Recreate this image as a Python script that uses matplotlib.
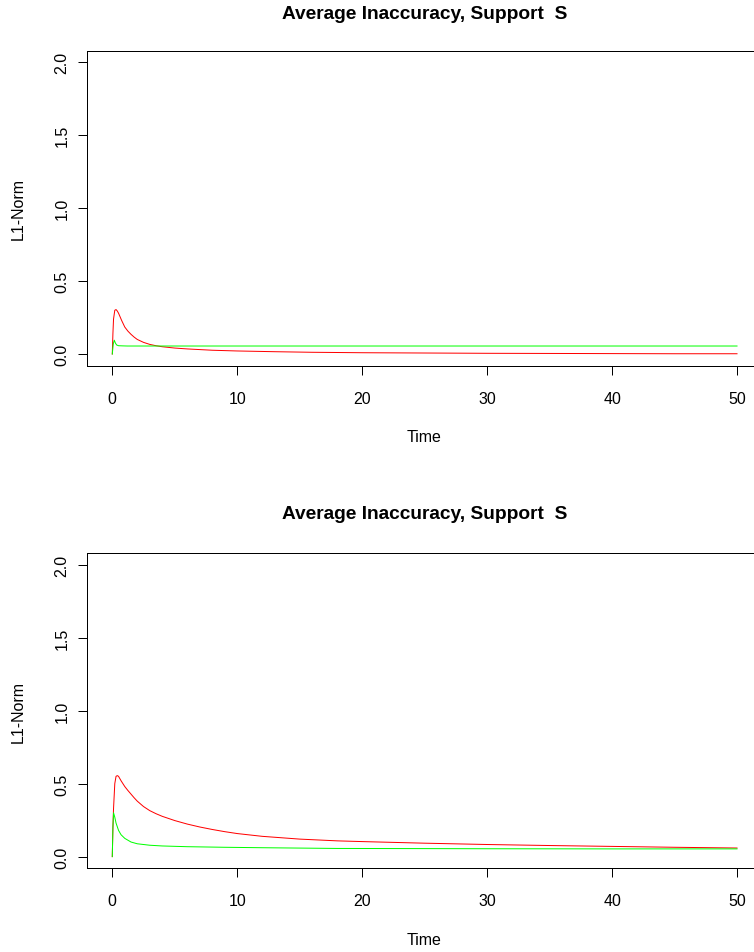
import matplotlib
matplotlib.use("Agg")
import matplotlib.pyplot as plt

plt.rcParams['font.family'] = ['Liberation Sans', 'DejaVu Sans']

title = "Average Inaccuracy, Support  S"
xlabel = "Time"
ylabel = "L1-Norm"
xticks = [0, 10, 20, 30, 40, 50]
yticks = [0.0, 0.5, 1.0, 1.5, 2.0]
ytick_labels = ["0.0", "0.5", "1.0", "1.5", "2.0"]

# Panel 1
t1_red = [0, 0.05, 0.1, 0.2, 0.3, 0.4, 0.5, 0.75, 1, 1.25, 1.5, 1.75, 2, 2.5, 3, 3.5, 4, 5, 6, 8, 10, 13, 16, 20, 25, 30, 35, 40, 45, 50]
v1_red = [0, 0.14, 0.24, 0.30, 0.305, 0.295, 0.28, 0.23, 0.185, 0.157, 0.135, 0.116, 0.10, 0.08, 0.066, 0.057, 0.05, 0.041, 0.035, 0.026, 0.021, 0.016, 0.012, 0.009, 0.007, 0.005, 0.004, 0.003, 0.002, 0.002]
t1_green = [0, 0.08, 0.16, 0.25, 0.35, 0.5, 0.8, 1.2, 2, 5, 10, 20, 30, 40, 50]
v1_green = [0, 0.07, 0.095, 0.075, 0.062, 0.057, 0.056, 0.055, 0.055, 0.055, 0.055, 0.055, 0.055, 0.055, 0.055]

# Panel 2
t2_red = [0, 0.05, 0.1, 0.2, 0.3, 0.4, 0.5, 0.7, 1, 1.25, 1.5, 1.75, 2, 2.5, 3, 3.5, 4, 5, 6, 7, 8, 9, 10, 12, 15, 18, 20, 25, 30, 35, 40, 45, 50]
v2_red = [0, 0.2, 0.33, 0.5, 0.55, 0.555, 0.55, 0.52, 0.48, 0.453, 0.428, 0.403, 0.38, 0.343, 0.315, 0.294, 0.276, 0.247, 0.223, 0.203, 0.186, 0.171, 0.158, 0.139, 0.12, 0.108, 0.103, 0.092, 0.083, 0.076, 0.07, 0.064, 0.059]
t2_green = [0, 0.05, 0.1, 0.2, 0.3, 0.5, 0.7, 1, 1.5, 2, 3, 4, 6, 9, 12, 18, 25, 30, 40, 50]
v2_green = [0, 0.2, 0.30, 0.27, 0.23, 0.18, 0.15, 0.125, 0.10, 0.088, 0.078, 0.073, 0.068, 0.064, 0.061, 0.056, 0.055, 0.054, 0.053, 0.053]

W, H = 754, 953
fig = plt.figure(figsize=(W / 100, H / 100), dpi=100)

base = 16 * 0.72  # 16 px in points
lw = 1.0 * 0.72

panels = [
    (t1_red, v1_red, t1_green, v1_green, 51.7, 366.7, 19.0),
    (t2_red, v2_red, t2_green, v2_green, 554.0, 869.3, 519.0),
]

left_px, right_px = 87.3, 762.0
for tr, vr, tg, vg, top_px, bot_px, title_base in panels:
    ax = fig.add_axes([left_px / W, 1 - bot_px / H, (right_px - left_px) / W, (bot_px - top_px) / H])
    ax.plot(tr, vr, color='#FF0000', lw=lw)
    ax.plot(tg, vg, color='#00FF00', lw=lw)
    ax.set_xlim(-2, 52)
    ax.set_ylim(-0.08, 2.08)
    ax.set_xticks(xticks)
    ax.set_xticklabels([str(x) for x in xticks], fontsize=base)
    ax.set_yticks(yticks)
    ax.set_yticklabels(ytick_labels, fontsize=base, rotation=90, va='center')
    ax.tick_params(axis='both', direction='out', length=9 * 0.72, width=0.72, color='black')
    ax.tick_params(axis='x', pad=16 * 0.72)
    ax.tick_params(axis='y', pad=9 * 0.72)
    for s in ax.spines.values():
        s.set_linewidth(0.72)
        s.set_color('black')
    cx = (left_px + right_px) / 2 / W
    fig.text(cx, 1 - title_base / H, title, fontsize=base * 1.2, fontweight='bold',
             ha='center', va='baseline')
    fig.text((112 + 737) / 2 / W, 1 - (bot_px + 71) / H, xlabel, fontsize=base, ha='center', va='center')
    fig.text(18 / W, 1 - ((top_px + bot_px) / 2) / H, ylabel, fontsize=base, ha='center', va='center', rotation=90)

fig.savefig("out.png", dpi=100)
